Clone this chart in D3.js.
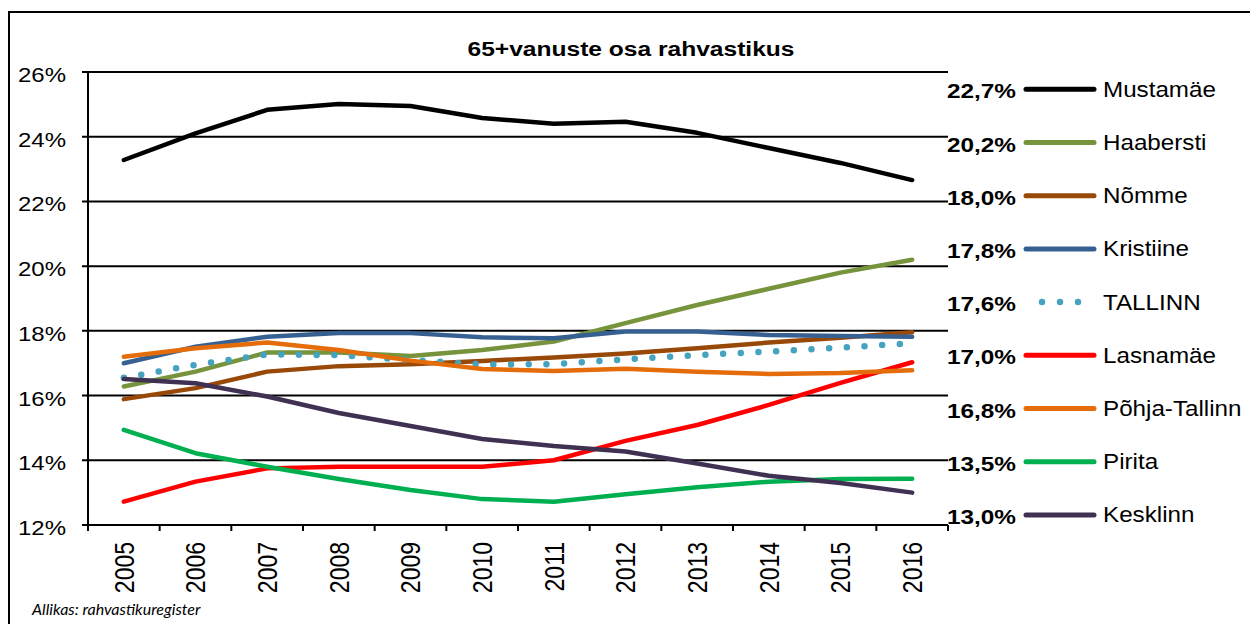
<!DOCTYPE html>
<html>
<head>
<meta charset="utf-8">
<script src="https://cdn.jsdelivr.net/npm/d3@7"></script>
<style>
    html, body { margin: 0; padding: 0; background: #ffffff; }
    svg { display: block; font-family: "Liberation Sans", Arial, sans-serif; }
</style>
</head>
<body>
<svg id="chart"></svg>
<script>
/* 65+ share of population by Tallinn district, 2005-2016 */

(function() {
    'use strict';

    // Years on the x axis
    const years = ['2005', '2006', '2007', '2008', '2009', '2010', '2011', '2012', '2013', '2014', '2015', '2016'];

    // Y ticks (percent)
    const yTicks = [12, 14, 16, 18, 20, 22, 24, 26];

    // Series values (percent)
    const mustamae     = [23.28, 24.1, 24.83, 25.01, 24.95, 24.58, 24.4, 24.46, 24.12, 23.65, 23.19, 22.66];
    const haabersti    = [16.28, 16.74, 17.33, 17.33, 17.22, 17.41, 17.67, 18.24, 18.8, 19.3, 19.8, 20.2];
    const nomme        = [15.89, 16.23, 16.74, 16.91, 16.97, 17.07, 17.18, 17.3, 17.46, 17.64, 17.79, 17.96];
    const kristiine    = [17.0, 17.51, 17.82, 17.93, 17.93, 17.8, 17.77, 17.98, 17.98, 17.87, 17.84, 17.82];
    const tallinn      = [16.55, 16.95, 17.27, 17.25, 17.1, 16.96, 16.97, 17.12, 17.25, 17.36, 17.48, 17.62];
    const lasnamae     = [12.72, 13.34, 13.75, 13.8, 13.8, 13.8, 14.0, 14.6, 15.09, 15.71, 16.39, 17.03];
    const pohjaTallinn = [17.2, 17.46, 17.64, 17.41, 17.08, 16.82, 16.76, 16.83, 16.74, 16.67, 16.7, 16.78];
    const pirita       = [14.94, 14.22, 13.8, 13.42, 13.08, 12.8, 12.72, 12.95, 13.17, 13.34, 13.42, 13.43];
    const kesklinn     = [16.51, 16.38, 15.97, 15.46, 15.06, 14.66, 14.44, 14.27, 13.9, 13.52, 13.3, 13.0];

    // Legend names and end labels
    const seriesNames  = ['Mustamäe', 'Haabersti', 'Nõmme', 'Kristiine', 'TALLINN', 'Lasnamäe', 'Põhja-Tallinn', 'Pirita', 'Kesklinn'];
    const endLabels    = ['22,7%', '20,2%', '18,0%', '17,8%', '17,6%', '17,0%', '16,8%', '13,5%', '13,0%'];
    const seriesValues = [mustamae, haabersti, nomme, kristiine, tallinn, lasnamae, pohjaTallinn, pirita, kesklinn];
    const seriesColors = ['#000000', '#77933c', '#984807', '#376092', '#45a3c0', '#ff0000', '#e46c0a', '#00b050', '#403152'];

    const width = 1250, height = 624;
    const margin = { top: 72, right: 302, bottom: 99, left: 88 };
    const innerWidth = width - margin.left - margin.right;
    const innerHeight = height - margin.top - margin.bottom;

    // Text in the picture is a bit wider than normal Arial
    const stretch = 1.2;

    const svg = d3.select('#chart')
        .attr('width', width)
        .attr('height', height);

    svg.append('rect')
        .attr('width', width)
        .attr('height', height)
        .attr('fill', '#ffffff');

    // Outer frame (only top and left are visible)
    svg.append('path')
        .attr('d', `M9,${height} V12 H${width}`)
        .attr('fill', 'none')
        .attr('stroke', '#000')
        .attr('stroke-width', 2);

    const g = svg.append('g')
        .attr('transform', `translate(${margin.left}, ${margin.top})`);

    const xBand = d3.scaleBand()
        .domain(years)
        .range([0, innerWidth]);

    const xScale = d3.scalePoint()
        .domain(years)
        .range([0, innerWidth])
        .padding(0.5);

    const yScale = d3.scaleLinear()
        .domain([12, 26])
        .range([innerHeight, 0]);

    // Horizontal gridlines with ticks to the left
    g.append('g')
        .selectAll('line')
        .data(yTicks)
        .enter()
        .append('line')
        .attr('x1', -6)
        .attr('x2', innerWidth)
        .attr('y1', d => yScale(d))
        .attr('y2', d => yScale(d))
        .attr('stroke', '#000')
        .attr('stroke-width', 2);

    // Y axis line
    g.append('line')
        .attr('x1', 0).attr('x2', 0)
        .attr('y1', 0).attr('y2', innerHeight + 6)
        .attr('stroke', '#000')
        .attr('stroke-width', 2);

    // X tick marks at band edges
    const edges = years.map(y => xBand(y)).concat([innerWidth]);
    g.append('g')
        .selectAll('line')
        .data(edges)
        .enter()
        .append('line')
        .attr('x1', d => d).attr('x2', d => d)
        .attr('y1', innerHeight).attr('y2', innerHeight + 6)
        .attr('stroke', '#000')
        .attr('stroke-width', 2);

    // Y tick labels
    g.append('g')
        .selectAll('text')
        .data(yTicks)
        .enter()
        .append('text')
        .attr('transform', d => `translate(-22, ${yScale(d) + 10}) scale(${stretch}, 1)`)
        .attr('text-anchor', 'end')
        .style('font-size', '20px')
        .attr('fill', '#000')
        .text(d => d + '%');

    // X tick labels (rotated)
    g.append('g')
        .selectAll('text')
        .data(years)
        .enter()
        .append('text')
        .attr('transform', d => `translate(${xScale(d)}, ${innerHeight + 17}) scale(1.22, 1) rotate(-90)`)
        .attr('text-anchor', 'end')
        .attr('dy', '0.35em')
        .style('font-size', '23px')
        .attr('fill', '#000')
        .text(d => d);

    // Lines
    const line = d3.line()
        .x((d, i) => xScale(years[i]))
        .y(d => yScale(d));

    seriesValues.forEach((vals, i) => {
        const isDotted = seriesNames[i] === 'TALLINN';
        g.append('path')
            .datum(vals)
            .attr('d', line)
            .attr('fill', 'none')
            .attr('stroke', seriesColors[i])
            .attr('stroke-width', isDotted ? 6.5 : 4.5)
            .attr('stroke-linecap', 'round')
            .attr('stroke-linejoin', 'round')
            .attr('stroke-dasharray', isDotted ? '0 17.7' : null);
    });

    // Title
    svg.append('text')
        .attr('transform', `translate(631, 56) scale(1.17, 1)`)
        .attr('text-anchor', 'middle')
        .style('font-size', '21px')
        .style('font-weight', '700')
        .attr('fill', '#000')
        .text('65+vanuste osa rahvastikus');

    // Legend on the right
    const legendTop = 89.3;
    const legendStep = 53.2;
    const legend = svg.append('g').attr('class', 'legend');

    seriesNames.forEach((name, i) => {
        const y = legendTop + i * legendStep;
        const isDotted = name === 'TALLINN';

        legend.append('text')
            .attr('transform', `translate(1016, ${y + 9}) scale(1.16, 1)`)
            .attr('text-anchor', 'end')
            .style('font-size', '21px')
            .style('font-weight', '700')
            .attr('fill', '#000')
            .text(endLabels[i]);

        legend.append('line')
            .attr('x1', isDotted ? 1042 : 1026)
            .attr('x2', isDotted ? 1079 : 1094)
            .attr('y1', y).attr('y2', y)
            .attr('stroke', seriesColors[i])
            .attr('stroke-width', isDotted ? 6.5 : 5)
            .attr('stroke-linecap', 'round')
            .attr('stroke-dasharray', isDotted ? '0 18' : null);

        legend.append('text')
            .attr('transform', `translate(1103, ${y + 7.5}) scale(1.1, 1)`)
            .attr('text-anchor', 'start')
            .style('font-size', '22px')
            .attr('fill', '#000')
            .text(name);
    });

    // Source note
    svg.append('text')
        .attr('x', 32)
        .attr('y', 615)
        .style('font-family', 'Lato, "Open Sans", sans-serif')
        .style('font-style', 'italic')
        .style('font-size', '16px')
        .attr('fill', '#000')
        .text('Allikas: rahvastikuregister');
})();
</script>
</body>
</html>
